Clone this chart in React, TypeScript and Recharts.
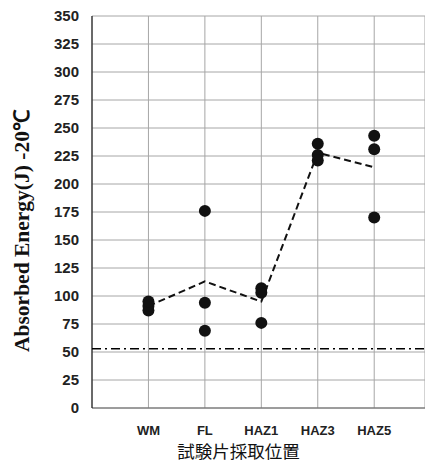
import { ComposedChart, Scatter, Line, XAxis, YAxis, CartesianGrid, ReferenceLine } from 'recharts';

const CATEGORIES = ['WM', 'FL', 'HAZ1', 'HAZ3', 'HAZ5'];
const X_POS = [1, 2, 3, 4, 5];

// individual test results (J)
const WM_VALUES = [87, 91, 95];
const FL_VALUES = [176, 94, 69];
const HAZ1_VALUES = [107, 103, 76];
const HAZ3_VALUES = [236, 226, 221];
const HAZ5_VALUES = [243, 231, 170];

// average per location
const MEAN_VALUES = [91, 113, 95, 228, 215];

const REQUIRED = 53;
const Y_TICKS = [0, 25, 50, 75, 100, 125, 150, 175, 200, 225, 250, 275, 300, 325, 350];

const GROUPS = [WM_VALUES, FL_VALUES, HAZ1_VALUES, HAZ3_VALUES, HAZ5_VALUES];

const points = GROUPS.flatMap((vals, i) => vals.map(v => ({ x: X_POS[i], y: v })));
const means = MEAN_VALUES.map((v, i) => ({ x: X_POS[i], y: v }));

const TICK_FONT = { fontSize: 15, fill: '#222', fontWeight: 700, fontFamily: '"Liberation Sans", Arial, sans-serif' };

function YLabel({ viewBox }: any) {
  const cx = viewBox.x + 22;
  const cy = viewBox.y + viewBox.height / 2 + 19;
  return (
    <text
      x={cx}
      y={cy}
      transform={`rotate(-90 ${cx} ${cy})`}
      textAnchor="middle"
      dominantBaseline="central"
      style={{ fontSize: 21.5, fontWeight: 700, fontFamily: '"Liberation Serif", "Times New Roman", serif', fill: '#111' }}
    >
      Absorbed Energy(J) -20℃
    </text>
  );
}

function XLabel({ viewBox }: any) {
  const cx = viewBox.x + viewBox.width / 2 - 20;
  const cy = viewBox.y + 42;
  return (
    <text
      x={cx}
      y={cy}
      textAnchor="middle"
      dominantBaseline="central"
      style={{ fontSize: 17.5, fontFamily: '"Noto Sans CJK JP", sans-serif', fill: '#111' }}
    >
      試験片採取位置
    </text>
  );
}

export default function App() {
  return (
    <div style={{ position: 'absolute', left: 0, top: 0, background: '#fff' }}>
      <ComposedChart width={425} height={463} margin={{ top: 16, right: 0, left: 0, bottom: 0 }}>
        <CartesianGrid stroke="#a6a6a6" strokeWidth={1} />
        <XAxis
          type="number"
          dataKey="x"
          domain={[0, 5.9]}
          ticks={X_POS}
          tickFormatter={(v: number) => CATEGORIES[v - 1]}
          tick={{ ...TICK_FONT, fontSize: 13 }}
          tickLine={false}
          tickMargin={12}
          axisLine={{ stroke: '#666' }}
          height={55}
          allowDataOverflow
          label={<XLabel />}
        />
        <YAxis
          type="number"
          dataKey="y"
          domain={[0, 350]}
          ticks={Y_TICKS}
          tick={TICK_FONT}
          tickLine={false}
          tickMargin={7}
          axisLine={{ stroke: '#000' }}
          width={92}
          interval={0}
          label={<YLabel />}
        />
        <ReferenceLine y={REQUIRED} stroke="#000" strokeWidth={1.5} strokeDasharray="9 4 2 4" />
        <Line
          data={means}
          dataKey="y"
          stroke="#111"
          strokeWidth={2}
          strokeDasharray="7 4"
          dot={false}
          isAnimationActive={false}
        />
        <Scatter data={points} dataKey="y" fill="#111" isAnimationActive={false} shape={(p: any) => <circle cx={p.cx} cy={p.cy} r={6} fill="#111" />} />
      </ComposedChart>
    </div>
  );
}
